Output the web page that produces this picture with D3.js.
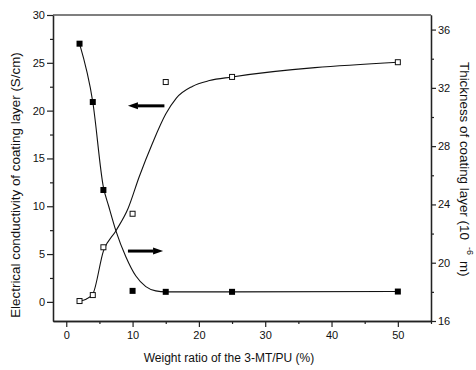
<!DOCTYPE html>
<html>
<head>
<meta charset="utf-8">
<script src="https://cdn.jsdelivr.net/npm/d3@7"></script>
<style>
  body { margin: 0; background: #fff; }
  text { font-family: "Liberation Sans", Arial, sans-serif; fill: #111; }
</style>
</head>
<body>
<svg id="chart" width="476" height="370"></svg>
<script>
// measured points
const ratio = [2, 4, 5.6, 10, 15, 25, 50];
const conductivity = [27, 20.9, 11.7, 1.15, 1.05, 1.05, 1.08];
const thickness = [17.37, 17.78, 21.06, 23.36, 32.4, 32.75, 33.76];

// fitted curves
const condFitX = [2, 4, 5.6, 6.4, 7.5, 9, 10.5, 12, 13.5, 15, 25, 50];
const condFitY = [27, 20.9, 12.0, 10.0, 7.4, 4.7, 2.7, 1.6, 1.15, 1.05, 1.05, 1.08];
const thickFitX = [2, 3, 4, 5.6, 7.5, 9.3, 11, 13, 15, 16.6, 19, 21.6, 25, 50];
const thickFitY = [17.37, 17.5, 17.85, 20.8, 22.2, 23.7, 25.9, 28.2, 30.2, 31.3, 32.1, 32.5, 32.75, 33.76];

// arrows: [x from, x to, value]
const arrowLeft = [14.8, 9.3, 20.5];   // points to left axis
const arrowRight = [9.3, 14.6, 20.8];  // points to right axis

const xTicks = [0, 10, 20, 30, 40, 50];
const leftTicks = [0, 5, 10, 15, 20, 25, 30];
const rightTicks = [16, 20, 24, 28, 32, 36];

const margin = { top: 15, right: 45, bottom: 49, left: 53 },
  W = 476, H = 370,
  w = W - margin.left - margin.right,
  h = H - margin.top - margin.bottom;

const svg = d3.select("#chart");
const g = svg.append("g").attr("transform", `translate(${margin.left},${margin.top})`);

const x = d3.scaleLinear().domain([-2, 55]).range([0, w]);
const yL = d3.scaleLinear().domain([-2, 30]).range([h, 0]);
const yR = d3.scaleLinear().domain([16, 37]).range([h, 0]);

function styleAxis(sel) {
  sel.selectAll("path.domain").attr("stroke", "#222").attr("stroke-width", 1.3);
  sel.selectAll(".tick line").attr("stroke", "#222").attr("stroke-width", 1.2);
  sel.selectAll(".tick text").style("font-size", "11px").attr("fill", "#111");
}

// minor ticks first
g.append("g").attr("transform", `translate(0,${h})`)
  .call(d3.axisBottom(x).tickValues(d3.range(5, 56, 10)).tickSize(3).tickFormat("").tickSizeOuter(0))
  .call(styleAxis);
g.append("g")
  .call(d3.axisLeft(yL).tickValues(d3.range(2.5, 30, 5)).tickSize(3).tickFormat("").tickSizeOuter(0))
  .call(styleAxis);
g.append("g").attr("transform", `translate(${w},0)`)
  .call(d3.axisRight(yR).tickValues(d3.range(18, 36, 4)).tickSize(3).tickFormat("").tickSizeOuter(0))
  .call(styleAxis);

// major ticks
g.append("g").attr("transform", `translate(0,${h})`)
  .call(d3.axisBottom(x).tickValues(xTicks).tickSize(6).tickPadding(4).tickSizeOuter(0))
  .call(styleAxis);
g.append("g")
  .call(d3.axisLeft(yL).tickValues(leftTicks).tickSize(6).tickPadding(2).tickSizeOuter(0))
  .call(styleAxis);
g.append("g").attr("transform", `translate(${w},0)`)
  .call(d3.axisRight(yR).tickValues(rightTicks).tickSize(5).tickPadding(2).tickSizeOuter(0))
  .call(styleAxis);

// top frame line
g.append("line").attr("x1", 0).attr("x2", w).attr("y1", 0).attr("y2", 0)
  .attr("stroke", "#555").attr("stroke-width", 1.5);

// fitted curves
const condLine = d3.line().x(d => x(d[0])).y(d => yL(d[1])).curve(d3.curveMonotoneX);
const thickLine = d3.line().x(d => x(d[0])).y(d => yR(d[1])).curve(d3.curveMonotoneX);

g.append("path").datum(d3.zip(condFitX, condFitY))
  .attr("d", condLine).attr("fill", "none").attr("stroke", "#111").attr("stroke-width", 1.1);
g.append("path").datum(d3.zip(thickFitX, thickFitY))
  .attr("d", thickLine).attr("fill", "none").attr("stroke", "#111").attr("stroke-width", 1.1);

// markers
const s = 6;
g.selectAll(".cond").data(d3.zip(ratio, conductivity)).join("rect")
  .attr("class", "cond")
  .attr("x", d => x(d[0]) - s / 2).attr("y", d => yL(d[1]) - s / 2)
  .attr("width", s).attr("height", s).attr("fill", "#000");

g.selectAll(".thick").data(d3.zip(ratio, thickness)).join("rect")
  .attr("class", "thick")
  .attr("x", d => x(d[0]) - s / 2 + 0.5).attr("y", d => yR(d[1]) - s / 2 + 0.5)
  .attr("width", s - 1).attr("height", s - 1)
  .attr("fill", "#fff").attr("stroke", "#111").attr("stroke-width", 1);

// arrows
function arrow(x0, x1, yy) {
  const dir = x1 > x0 ? 1 : -1, head = 10, hw = 3.5;
  const tip = x1, base = x1 - dir * head;
  g.append("line").attr("x1", x0).attr("x2", base).attr("y1", yy).attr("y2", yy)
    .attr("stroke", "#000").attr("stroke-width", 3);
  g.append("path")
    .attr("d", `M${tip},${yy}L${base},${yy - hw}L${base},${yy + hw}Z`)
    .attr("fill", "#000");
}
arrow(x(arrowLeft[0]), x(arrowLeft[1]), yL(arrowLeft[2]));
arrow(x(arrowRight[0]), x(arrowRight[1]), yR(arrowRight[2]));

// axis titles
svg.append("text")
  .attr("x", 229).attr("y", 362)
  .attr("text-anchor", "middle").style("font-size", "12px")
  .text("Weight ratio of the 3-MT/PU (%)");

svg.append("text")
  .attr("transform", "translate(20,185) rotate(-90)")
  .attr("text-anchor", "middle").style("font-size", "13.4px")
  .text("Electrical conductivity of coating layer (S/cm)");

const rt = svg.append("text")
  .attr("transform", "translate(460,62) rotate(90)")
  .style("font-size", "13.4px");
rt.append("tspan").text("Thickness of coating layer (10");
rt.append("tspan").attr("dx", 7).attr("dy", -7).style("font-size", "9px").text("-6");
rt.append("tspan").attr("dx", 6).attr("dy", 7).text("m)");
</script>
</body>
</html>
